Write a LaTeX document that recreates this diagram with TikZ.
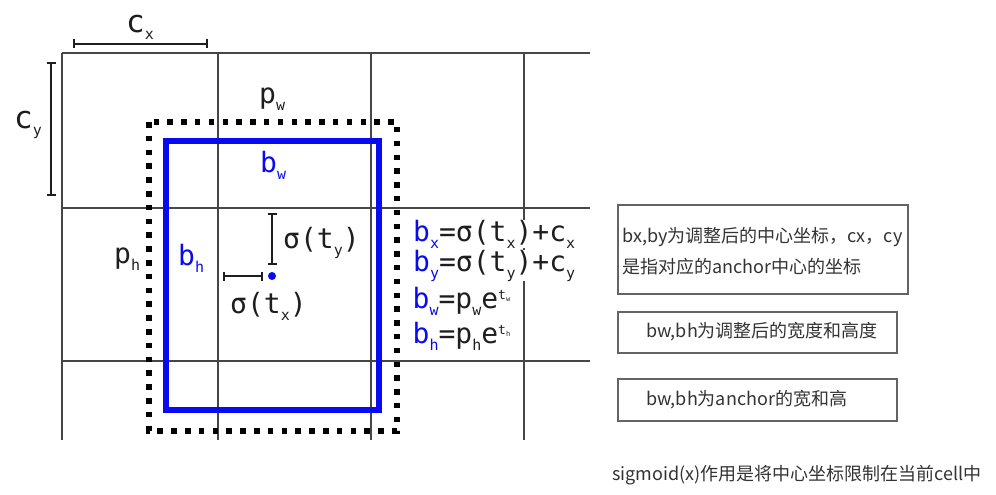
\documentclass[tikz,border=0pt]{standalone}
\usepackage{fontspec}
\setmainfont{DejaVu Sans Mono}
\newfontfamily\cjk{Noto Sans CJK SC}
\usetikzlibrary{arrows.meta}
\definecolor{gridc}{RGB}{70,70,70}
\definecolor{bblue}{RGB}{10,10,240}
\definecolor{labc}{RGB}{30,30,30}
\definecolor{boxc}{RGB}{100,100,100}
\definecolor{cjkc}{RGB}{51,51,51}
\newcommand{\sbs}[1]{\raisebox{-7pt}{\fontsize{15}{15}\selectfont #1}}
\newcommand{\sps}[1]{\raisebox{9pt}{\fontsize{13}{13}\selectfont t\raisebox{-2pt}{\fontsize{7}{7}\selectfont #1}}}
\tikzset{
  gridline/.style={draw=gridc, line width=1.5pt},
  dotbox/.style={draw=black, line width=5.5pt, dash pattern=on 5.5pt off 8.3pt},
  bluebox/.style={draw=bblue, line width=6pt},
  bracket/.style={draw=labc, line width=2pt, {Bar[width=9pt]}-{Bar[width=9pt]}},
  lab/.style={inner sep=0pt, anchor=base west, text=labc, font=\fontsize{28}{30}\selectfont},
  biglab/.style={lab, font=\fontsize{31}{34}\selectfont},
  blab/.style={lab, text=bblue},
  eq/.style={lab, fill=white, inner xsep=1pt, inner ysep=0pt},
  cbox/.style={draw=boxc, line width=2pt, anchor=north west, inner sep=0pt},
  ctext/.style={inner sep=0pt, anchor=base west, text=cjkc, font=\cjk\fontsize{18}{22}\selectfont}
}
\begin{document}
\begin{tikzpicture}[x=1pt,y=-1pt]
\useasboundingbox (0,0) rectangle (996,495);
% grid
\foreach \yy in {53,208,361} \draw[gridline] (62,\yy) -- (590,\yy);
\foreach \xx in {62,218,371,524} \draw[gridline] (\xx,53) -- (\xx,440);
% boxes
\draw[dotbox] (149,122) rectangle (397,431);
\draw[bluebox] (166,141) rectangle (378.5,410);
% brackets
\coordinate (cxa) at (73,44); \coordinate (cxb) at (208,44);
\coordinate (cya) at (51,62); \coordinate (cyb) at (51,196);
\coordinate (sxa) at (223,276); \coordinate (sxb) at (263,276);
\coordinate (sya) at (272,213); \coordinate (syb) at (272,265);
\draw[bracket] (cxa) -- (cxb);
\draw[bracket] (cya) -- (cyb);
\draw[bracket] (sxa) -- (sxb);
\draw[bracket] (sya) -- (syb);
\node[circle, fill=bblue, inner sep=0pt, minimum size=8pt] (ctr) at (272,276) {};
% labels
\node[biglab] (lcx) at (126,33) {c\sbs{x}};
\node[biglab] (lcy) at (14,128) {c\sbs{y}};
\node[lab] (lpw) at (259,103) {p\sbs{w}};
\node[blab] (lbw) at (260,172) {b\sbs{w}};
\node[lab] (lph) at (114,263) {p\sbs{h}};
\node[blab] (lbh) at (178,265) {b\sbs{h}};
\node[lab] (lsy) at (283,248) {σ(t\sbs{y})};
\node[lab] (lsx) at (230,313) {σ(t\sbs{x})};
% equations
\node[eq] (e1) at (412,241) {\textcolor{bblue}{b\sbs{x}}=σ(t\sbs{x})+c\sbs{x}};
\node[eq] (e2) at (412,271) {\textcolor{bblue}{b\sbs{y}}=σ(t\sbs{y})+c\sbs{y}};
\node[lab] (e3) at (412.5,308) {\textcolor{bblue}{b\sbs{w}}=p\sbs{w}e\sps{w}};
\node[lab] (e4) at (412.5,343) {\textcolor{bblue}{b\sbs{h}}=p\sbs{h}e\sps{h}};
% right side notes
\node[cbox, minimum width=290pt, minimum height=89pt] (box1) at (617,204) {};
\node[ctext] (t1a) at (622,242) {bx,by为调整后的中心坐标，cx，cy};
\node[ctext] (t1b) at (622,273) {是指对应的anchor中心的坐标};
\node[cbox, minimum width=279pt, minimum height=41pt] (box2) at (617,311) {};
\node[ctext] (t2) at (646,337) {bw,bh为调整后的宽度和高度};
\node[cbox, minimum width=279pt, minimum height=42pt] (box3) at (617,378) {};
\node[ctext] (t3) at (646,405) {bw,bh为anchor的宽和高};
\node[ctext] (t4) at (612,480) {sigmoid(x)作用是将中心坐标限制在当前cell中};
\end{tikzpicture}
\end{document}
